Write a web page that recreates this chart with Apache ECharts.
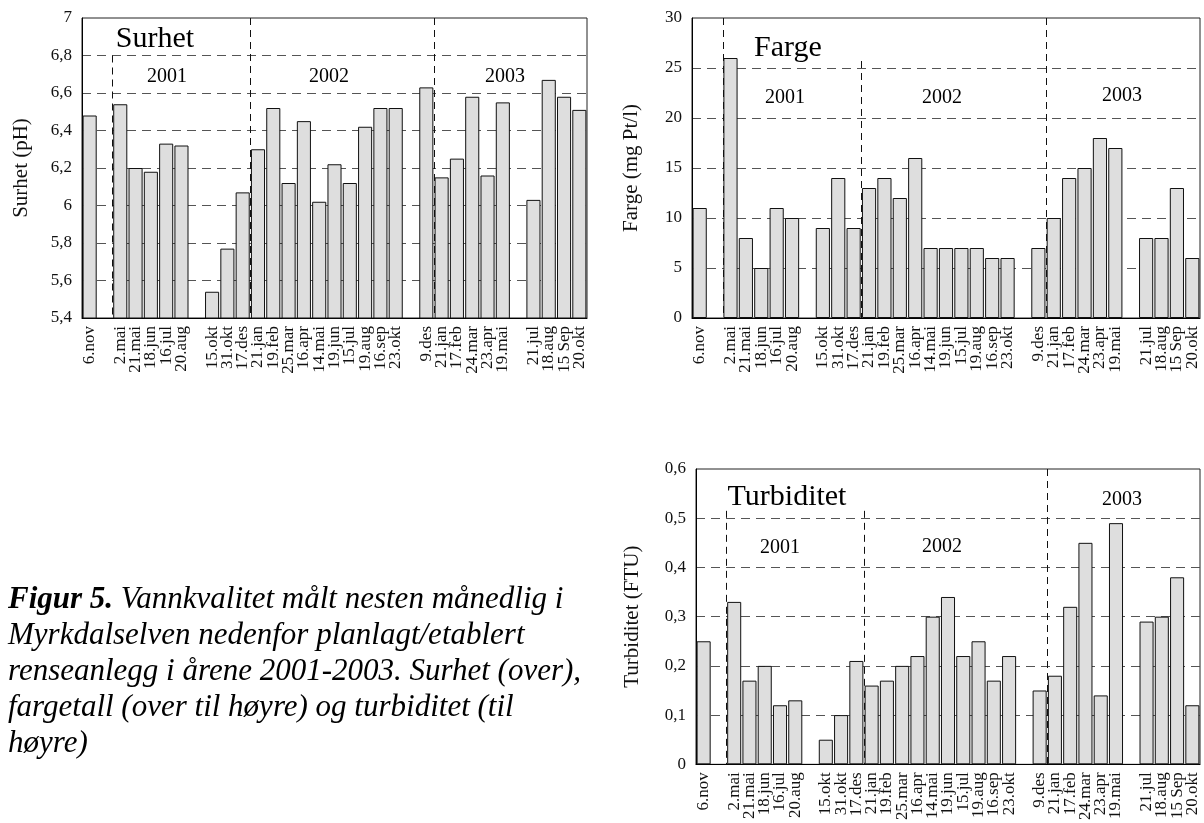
<!DOCTYPE html>
<html>
<head>
<meta charset="utf-8">
<title>Vannkvalitet Myrkdalselven</title>
<script src="https://cdn.jsdelivr.net/npm/echarts@6/dist/echarts.min.js"></script>
<style>
  html, body { margin: 0; padding: 0; background: #fff; }
  #main { width: 1204px; height: 823px; }
</style>
</head>
<body>
<div id="main"></div>
<script>
// prøvedatoer (tomme felt = mellomrom mellom årene)
var datoer = ['6.nov', '', '2.mai', '21.mai', '18.jun', '16.jul', '20.aug', '',
  '15.okt', '31.okt', '17.des', '21.jan', '19.feb', '25.mar', '16.apr', '14.mai',
  '19.jun', '15.jul', '19.aug', '16.sep', '23.okt', '',
  '9.des', '21.jan', '17.feb', '24.mar', '23.apr', '19.mai', '',
  '21.jul', '18.aug', '15 Sep', '20.okt'];

var surhet = [6.48, null, 6.54, 6.20, 6.18, 6.33, 6.32, null,
  5.54, 5.77, 6.07, 6.30, 6.52, 6.12, 6.45, 6.02, 6.22, 6.12, 6.42, 6.52, 6.52, null,
  6.63, 6.15, 6.25, 6.58, 6.16, 6.55, null,
  6.03, 6.67, 6.58, 6.51];

var farge = [11, null, 26, 8, 5, 11, 10, null,
  9, 14, 9, 13, 14, 12, 16, 7, 7, 7, 7, 6, 6, null,
  7, 10, 14, 15, 18, 17, null,
  8, 8, 13, 6];

var turbiditet = [0.25, null, 0.33, 0.17, 0.20, 0.12, 0.13, null,
  0.05, 0.10, 0.21, 0.16, 0.17, 0.20, 0.22, 0.30, 0.34, 0.22, 0.25, 0.17, 0.22, null,
  0.15, 0.18, 0.32, 0.45, 0.14, 0.49, null,
  0.29, 0.30, 0.38, 0.12];

// første prøve i hvert år (2001, 2002, 2003)
var aarStart = [2, 11, 23];
var aarTekst = ['2001', '2002', '2003'];

var font = 'Liberation Serif';

var panels = [
  { navn: 'Surhet', akse: 'Surhet (pH)', data: surhet, min: 5.4, max: 7, step: 0.2,
    grid: { left: 82, top: 18, width: 505, height: 300 }, navnGap: 50,
    strekTopp: [6.8, 7, 7],
    tittel: [155, 39], aar: [[167, 77], [329, 77], [505, 77]] },
  { navn: 'Farge', akse: 'Farge (mg Pt/l)', data: farge, min: 0, max: 30, step: 5,
    grid: { left: 692, top: 18, width: 508, height: 300 }, navnGap: 50,
    strekTopp: [30, 25.7, 30],
    tittel: [788, 48], aar: [[785, 98], [942, 98], [1122, 96]] },
  { navn: 'Turbiditet', akse: 'Turbiditet (FTU)', data: turbiditet, min: 0, max: 0.6, step: 0.1,
    grid: { left: 696, top: 469, width: 504, height: 300 }, navnGap: 53,
    strekTopp: [0.515, 0.515, 0.6],
    tittel: [787, 497], aar: [[780, 548], [942, 547], [1122, 500]] }
];

function komma(v) {
  return String(+v.toFixed(2)).replace('.', ',');
}

var grids = [], xAxes = [], yAxes = [], series = [], graphics = [];

panels.forEach(function (p, i) {
  grids.push({
    left: p.grid.left, top: p.grid.top, width: p.grid.width, height: p.grid.height,
    show: true, borderColor: '#222', borderWidth: 1, backgroundColor: 'transparent'
  });
  xAxes.push({
    type: 'category', gridIndex: i, data: datoer,
    axisLine: { lineStyle: { color: '#000' } },
    axisTick: { alignWithLabel: true, length: 6, lineStyle: { color: '#000' }, interval: 0 },
    axisLabel: { interval: 0, rotate: 90, fontFamily: font, fontSize: 17, color: '#111',
      margin: 8, lineHeight: 15 },
    splitLine: { show: false }
  });
  yAxes.push({
    type: 'value', gridIndex: i, min: p.min, max: p.max, interval: p.step,
    name: p.akse, nameLocation: 'middle', nameGap: p.navnGap,
    nameTextStyle: { fontFamily: font, fontSize: 21, color: '#111' },
    axisLine: { show: true, lineStyle: { color: '#000' } },
    axisTick: { show: false },
    axisLabel: { fontFamily: font, fontSize: 17, color: '#111', margin: 10, formatter: komma },
    splitLine: { show: true, showMinLine: false, showMaxLine: false,
      lineStyle: { color: '#555', type: [9, 6], width: 1 } }
  });
  series.push({
    type: 'bar', xAxisIndex: i, yAxisIndex: i, data: p.data,
    barCategoryGap: '8%',
    itemStyle: { color: '#dedede', borderColor: '#111', borderWidth: 1 }
  });
  graphics.push({
    type: 'text',
    style: { x: p.tittel[0], y: p.tittel[1], text: p.navn, font: '30px ' + font,
      fill: '#000', align: 'center', verticalAlign: 'middle' }
  });
  p.aar.forEach(function (pos, k) {
    graphics.push({
      type: 'text',
      style: { x: pos[0], y: pos[1], text: aarTekst[k], font: '20px ' + font,
        fill: '#000', align: 'center', verticalAlign: 'middle' }
    });
  });
});

// skjulte verdi-akser for årsdelere mellom kategoriene
panels.forEach(function (p, i) {
  xAxes.push({ type: 'value', gridIndex: i, min: 0, max: datoer.length, show: false });
  series.push({
    type: 'line', xAxisIndex: 3 + i, yAxisIndex: i, data: [], silent: true,
    markLine: {
      silent: true, symbol: 'none', label: { show: false },
      lineStyle: { color: '#111', type: [7, 5], width: 1 },
      data: aarStart.map(function (s, k) {
        return [{ coord: [s, p.strekTopp[k]] }, { coord: [s, p.min] }];
      })
    }
  });
});

// figurtekst
var linjer = [
  '{b|Figur 5.} Vannkvalitet målt nesten månedlig i',
  'Myrkdalselven nedenfor planlagt/etablert',
  'renseanlegg i årene 2001-2003. Surhet (over),',
  'fargetall (over til høyre) og turbiditet (til',
  'høyre)'
];
linjer.forEach(function (t, k) {
  graphics.push({
    type: 'text',
    style: {
      x: 8, y: 600 + k * 36, text: t, verticalAlign: 'middle',
      font: 'italic 31px ' + font, fill: '#000',
      rich: { b: { font: 'italic bold 31px ' + font, fill: '#000' } }
    }
  });
});

var chart = echarts.init(document.getElementById('main'));
chart.setOption({
  animation: false,
  backgroundColor: '#fff',
  grid: grids,
  xAxis: xAxes,
  yAxis: yAxes,
  series: series,
  graphic: graphics
});
</script>
</body>
</html>
